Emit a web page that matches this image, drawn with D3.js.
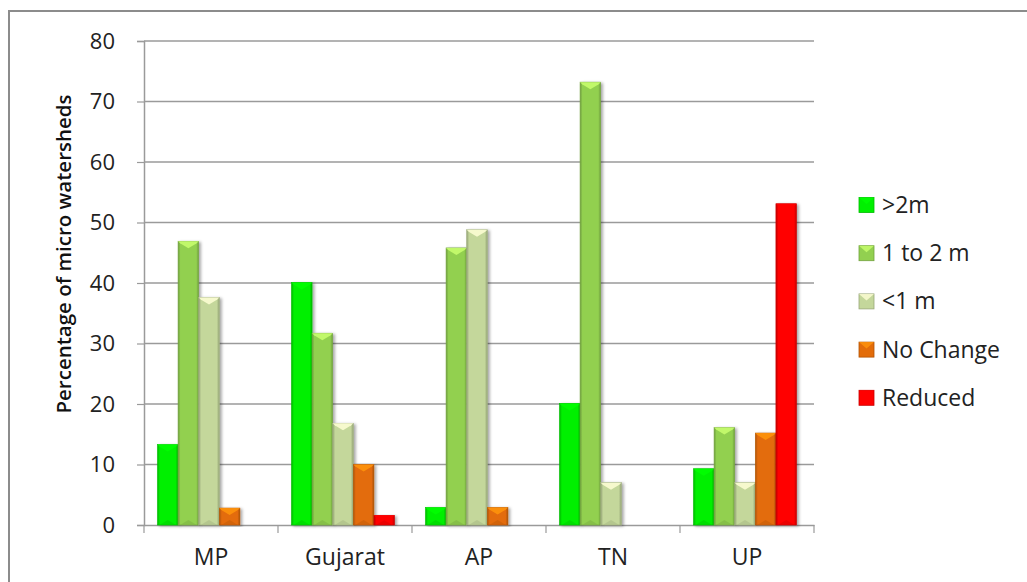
<!DOCTYPE html>
<html>
<head>
<meta charset="utf-8">
<script src="https://cdn.jsdelivr.net/npm/d3@7"></script>
<style>
  body { margin: 0; background: #fff; }
  text { font-family: "Open Sans", Lato, sans-serif; fill: #222; }
</style>
</head>
<body>
<div id="chart"></div>
<script>
// data
var states = ["MP", "Gujarat", "AP", "TN", "UP"];
var seriesNames = [">2m", "1 to 2 m", "<1 m", "No Change", "Reduced"];
var seriesColors = ["#00f000", "#92d050", "#c4d79b", "#e36c09", "#ff0000"];
var gt2m = [13.3, 40.1, 2.9, 20.1, 9.3];
var oneTo2m = [46.9, 31.7, 45.8, 73.2, 16.1];
var lt1m = [37.6, 16.8, 48.8, 7.0, 7.0];
var noChange = [2.8, 10.0, 2.9, 0, 15.2];
var reduced = [0, 1.6, 0, 0, 53.1];
var yTicks = [0, 10, 20, 30, 40, 50, 60, 70, 80];

var allSeries = [gt2m, oneTo2m, lt1m, noChange, reduced];

var W = 1027, H = 582;
var margin = {left: 144, top: 41, right: 213, bottom: 57};
var width = W - margin.left - margin.right;
var height = H - margin.top - margin.bottom;

var svg = d3.select("#chart").append("svg")
    .attr("width", W)
    .attr("height", H);

var defs = svg.append("defs");

// outer frame (top and left edges only are visible)
svg.append("line").attr("x1", 9).attr("x2", W).attr("y1", 11).attr("y2", 11)
    .attr("stroke", "#8c8c8c").attr("stroke-width", 2);
svg.append("line").attr("x1", 9).attr("x2", 9).attr("y1", 10).attr("y2", H)
    .attr("stroke", "#8c8c8c").attr("stroke-width", 2);

// side gradients for the bevel look
seriesColors.forEach(function (c, i) {
    var g = defs.append("linearGradient").attr("id", "grad" + i)
        .attr("x1", "0%").attr("x2", "100%").attr("y1", "0%").attr("y2", "0%");
    var dark = d3.color(c).darker(0.8);
    g.append("stop").attr("offset", "0%").attr("stop-color", dark);
    g.append("stop").attr("offset", "12%").attr("stop-color", c);
    g.append("stop").attr("offset", "88%").attr("stop-color", c);
    g.append("stop").attr("offset", "100%").attr("stop-color", dark);
});

var shadow = defs.append("filter").attr("id", "shadow")
    .attr("x", "-30%").attr("y", "-10%").attr("width", "160%").attr("height", "120%");
shadow.append("feDropShadow").attr("dx", 2).attr("dy", 1).attr("stdDeviation", 1.5)
    .attr("flood-color", "#000").attr("flood-opacity", 0.35);

var g = svg.append("g")
    .attr("transform", "translate(" + margin.left + "," + margin.top + ")");

var x0 = d3.scaleBand().domain(states).range([0, width]).paddingInner(0).paddingOuter(0);
var x1 = d3.scaleBand().domain(d3.range(seriesNames.length))
    .range([-2, x0.bandwidth() - 2]).paddingOuter(0.75).paddingInner(0);

var y = d3.scaleLinear().domain([0, 80]).range([height, 0]);

// gridlines
g.append("g").selectAll("line").data(yTicks.slice(1)).enter().append("line")
    .attr("x1", 0).attr("x2", width)
    .attr("y1", function (d) { return y(d); })
    .attr("y2", function (d) { return y(d); })
    .attr("stroke", "#9a9a9a").attr("stroke-width", 1.5);

// y axis
var yAxis = g.append("g")
    .call(d3.axisLeft(y).tickValues(yTicks).tickSize(7).tickPadding(22));
yAxis.select(".domain").attr("stroke", "#9a9a9a").attr("stroke-width", 1.5);
yAxis.selectAll(".tick line").attr("stroke", "#9a9a9a").attr("stroke-width", 1.2);
yAxis.selectAll(".tick text").style("font-size", "22px").style("font-family", "'Open Sans', sans-serif").attr("fill", "#222");

// x axis
var xAxis = g.append("g")
    .attr("transform", "translate(0," + height + ")")
    .call(d3.axisBottom(x0).tickSize(0).tickPadding(24));
xAxis.select(".domain").attr("stroke", "#9a9a9a").attr("stroke-width", 1.5);
xAxis.selectAll(".tick text").style("font-size", "23px").style("font-family", "'Open Sans', sans-serif").attr("fill", "#222");
// category separators
g.append("g").selectAll("line").data(d3.range(states.length + 1)).enter().append("line")
    .attr("x1", function (d) { return d * x0.step(); })
    .attr("x2", function (d) { return d * x0.step(); })
    .attr("y1", height).attr("y2", height + 8)
    .attr("stroke", "#9a9a9a").attr("stroke-width", 1.2);

// bars
var rows = [];
states.forEach(function (s, i) {
    allSeries.forEach(function (vals, k) {
        if (vals[i] > 0) rows.push({state: s, k: k, v: vals[i]});
    });
});

var bars = g.append("g").selectAll("g.bar").data(rows).enter().append("g")
    .attr("class", "bar")
    .attr("transform", function (d) {
        return "translate(" + (x0(d.state) + x1(d.k)) + ",0)";
    });

var bw = x1.bandwidth();

bars.append("rect")
    .attr("x", 0)
    .attr("y", function (d) { return y(d.v); })
    .attr("width", bw)
    .attr("height", function (d) { return height - y(d.v); })
    .attr("fill", function (d) { return "url(#grad" + d.k + ")"; })
    .attr("stroke", function (d) { return d3.color(seriesColors[d.k]).darker(0.6); })
    .attr("stroke-width", 0.6)
    .attr("filter", "url(#shadow)");

// light chevron on top
bars.append("path")
    .attr("d", function (d) {
        var t = y(d.v), h = Math.min(7, (height - t) / 2);
        return "M0," + t + "L" + bw + "," + t + "L" + (bw - 2) + "," + (t + 2) +
            "L" + (bw / 2) + "," + (t + h) + "L2," + (t + 2) + "Z";
    })
    .attr("fill", function (d) { return d3.color(seriesColors[d.k]).brighter(0.9); })
    .attr("opacity", 0.85);

// darker chevron at bottom
bars.append("path")
    .attr("d", function (d) {
        var b = height, h = Math.min(5, (height - y(d.v)) / 2);
        return "M2," + b + "L" + (bw - 2) + "," + b + "L" + (bw / 2) + "," + (b - h) + "Z";
    })
    .attr("fill", function (d) { return d3.color(seriesColors[d.k]).darker(0.4); })
    .attr("opacity", 0.6);

// y axis title
svg.append("text")
    .attr("transform", "translate(64," + 254 + ") rotate(-90)")
    .style("text-anchor", "middle")
    .attr("dy", "0.35em")
    .style("font-size", "20.5px")
    .style("font-weight", "600")
    .style("fill", "#111")
    .text("Percentage of micro watersheds");

// legend
var legend = svg.append("g").attr("transform", "translate(859,205)");
var items = legend.selectAll("g").data(seriesNames).enter().append("g")
    .attr("transform", function (d, i) { return "translate(0," + (i * 48.2) + ")"; });
items.append("rect")
    .attr("x", 0).attr("y", -7.5).attr("width", 15).attr("height", 15)
    .attr("fill", function (d, i) { return seriesColors[i]; })
    .attr("stroke", function (d, i) { return d3.color(seriesColors[i]).darker(0.7); })
    .attr("stroke-width", 0.8);
items.append("path")
    .attr("d", "M0,-7.5L15,-7.5L7.5,-1Z")
    .attr("fill", function (d, i) { return d3.color(seriesColors[i]).brighter(0.9); })
    .attr("opacity", 0.8);
items.append("text")
    .attr("x", 23).attr("y", 0).attr("dy", "0.35em")
    .style("font-size", "23px")
    .text(function (d) { return d; });
</script>
</body>
</html>
